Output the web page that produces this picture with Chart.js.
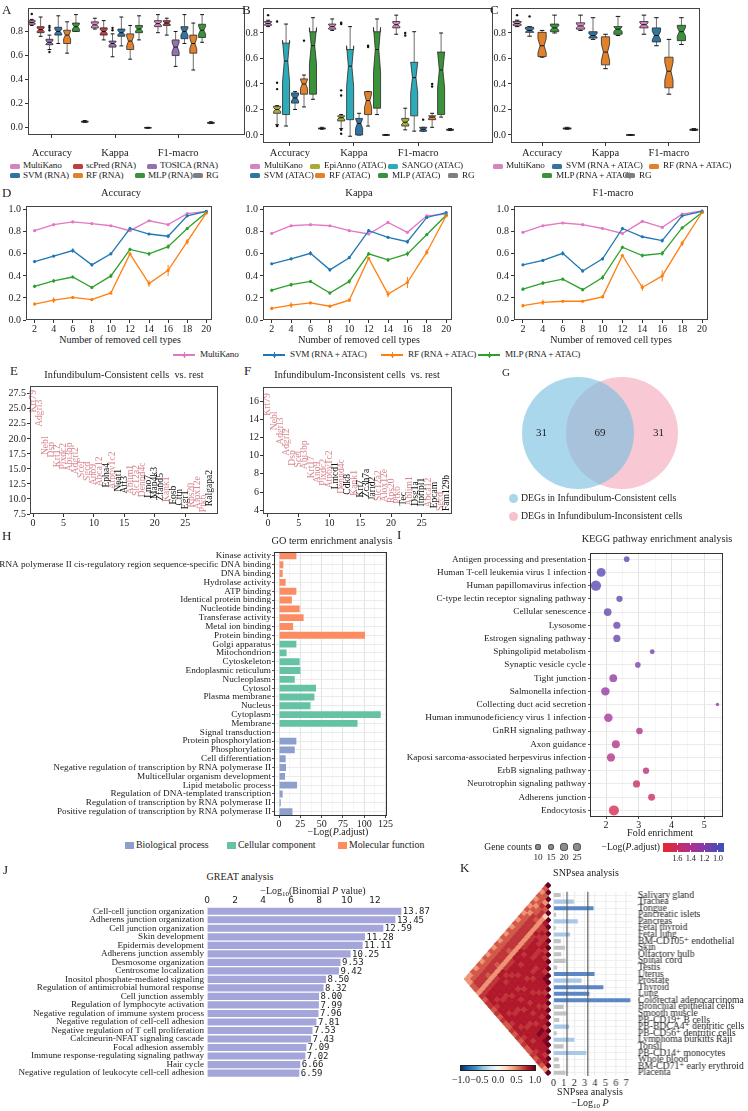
<!DOCTYPE html>
<html>
<head>
<meta charset="utf-8">
<title>MultiKano benchmark figure</title>
<script src="https://cdn.jsdelivr.net/npm/chart.js@4.4.1/dist/chart.umd.min.js"></script>
<style>
  html, body { margin: 0; padding: 0; background: #fff; }
  body { position: relative; width: 748px; height: 1111px; overflow: hidden;
         font-family: "Liberation Serif", "DejaVu Serif", serif; color: #222; }
  .box { position: absolute; }
  .box canvas { display: block; }
  .t { position: absolute; white-space: nowrap; line-height: 1; }
  .t sub { font-size: 70%; vertical-align: -0.25em; line-height: 0; }
  .mk { position: absolute; }
</style>
</head>
<body>
<script>
// ---------- A / B / C : box plots ----------
const metrics = ['Accuracy', 'Kappa', 'F1-macro'];
const boxYTicks = [0, 0.2, 0.4, 0.6, 0.8];

// one row per metric: [min, q1, median, q3, max]
const aMultiKano = [[0.85, 0.86, 0.875, 0.89, 0.90], [0.82, 0.83, 0.855, 0.88, 0.91], [0.79, 0.84, 0.865, 0.89, 0.94]];
const aScPred    = [[0.76, 0.79, 0.815, 0.84, 0.92], [0.73, 0.77, 0.80, 0.83, 0.89], [0.77, 0.85, 0.87, 0.89, 0.91]];
const aTosica    = [[0.65, 0.69, 0.71, 0.735, 0.77], [0.59, 0.67, 0.70, 0.72, 0.78], [0.51, 0.60, 0.67, 0.73, 0.80]];
const aSvm       = [[0.70, 0.77, 0.80, 0.835, 0.93], [0.68, 0.76, 0.79, 0.82, 0.92], [0.70, 0.74, 0.80, 0.84, 0.94]];
const aRf        = [[0.62, 0.70, 0.77, 0.81, 0.88], [0.57, 0.65, 0.72, 0.78, 0.85], [0.48, 0.62, 0.70, 0.77, 0.87]];
const aMlp       = [[0.80, 0.80, 0.84, 0.87, 0.94], [0.73, 0.79, 0.82, 0.85, 0.93], [0.71, 0.75, 0.81, 0.86, 0.94]];
const rgStats    = [[0.045, 0.048, 0.05, 0.055, 0.06], [-0.004, -0.002, 0, 0.002, 0.004], [0.035, 0.038, 0.04, 0.045, 0.05]];
const noOutliers = [[], [], []];
const aMultiKanoOut = [[0.945], [], []];
const aTosicaOut    = [[0.81, 0.83, 0.845, 0.63], [0.81, 0.83], []];

const bMultiKano = [[0.85, 0.86, 0.875, 0.89, 0.90], [0.82, 0.83, 0.85, 0.87, 0.91], [0.79, 0.84, 0.865, 0.89, 0.94]];
const bEpiAnno   = [[0.08, 0.17, 0.20, 0.225, 0.23], [0.05, 0.11, 0.135, 0.15, 0.16], [0.04, 0.07, 0.10, 0.13, 0.21]];
const bSango     = [[0.07, 0.16, 0.58, 0.72, 0.87], [-0.01, 0.12, 0.54, 0.67, 0.85], [0.03, 0.15, 0.45, 0.57, 0.81]];
const bSvm       = [[0.20, 0.25, 0.29, 0.33, 0.34], [0.0, 0.0, 0.09, 0.13, 0.17], [0.03, 0.03, 0.045, 0.06, 0.06]];
const bRf        = [[0.22, 0.32, 0.40, 0.44, 0.47], [0.07, 0.16, 0.27, 0.34, 0.34], [0.06, 0.12, 0.14, 0.15, 0.17]];
const bMlp       = [[0.28, 0.32, 0.70, 0.81, 0.92], [0.16, 0.21, 0.67, 0.81, 0.91], [0.14, 0.16, 0.51, 0.65, 0.80]];
const bMultiKanoOut = [[0.94], [], []];
const bEpiAnnoOut   = [[0.89, 0.41, 0.36, 0.07], [0.88, 0.87, 0.35, 0.31, 0.04, 0.01], [0.80, 0.78]];
const bSvmOut       = [[], [], [0.12]];
const bRfOut        = [[0.74], [0.70, 0.69], [0.40, 0.38]];

const cMultiKano = [[0.85, 0.86, 0.875, 0.89, 0.90], [0.82, 0.83, 0.855, 0.88, 0.94], [0.79, 0.84, 0.865, 0.89, 0.94]];
const cSvm       = [[0.775, 0.805, 0.82, 0.845, 0.85], [0.75, 0.76, 0.78, 0.81, 0.92], [0.70, 0.73, 0.78, 0.84, 0.92]];
const cRf        = [[0.61, 0.615, 0.70, 0.805, 0.82], [0.52, 0.55, 0.65, 0.77, 0.79], [0.32, 0.37, 0.50, 0.61, 0.75]];
const cMlp       = [[0.80, 0.81, 0.84, 0.87, 0.94], [0.78, 0.79, 0.83, 0.85, 0.93], [0.71, 0.74, 0.81, 0.86, 0.92]];
const cMultiKanoOut = [[0.94], [], []];
const cSvmOut       = [[0.93], [], []];

// ---------- D : removed cell types ----------
const removedTypes = [2, 4, 6, 8, 10, 12, 14, 16, 18, 20];
const dAccMulti = [0.81, 0.865, 0.89, 0.875, 0.855, 0.81, 0.90, 0.865, 0.965, 0.985];
const dAccSvm   = [0.53, 0.58, 0.63, 0.50, 0.60, 0.83, 0.78, 0.76, 0.945, 0.985];
const dAccRf    = [0.145, 0.18, 0.205, 0.185, 0.245, 0.60, 0.33, 0.45, 0.71, 0.97];
const dAccMlp   = [0.305, 0.355, 0.39, 0.295, 0.40, 0.64, 0.60, 0.665, 0.83, 0.975];
const dKapMulti = [0.785, 0.855, 0.865, 0.855, 0.81, 0.78, 0.885, 0.795, 0.945, 0.96];
const dKapSvm   = [0.51, 0.555, 0.605, 0.455, 0.565, 0.81, 0.75, 0.71, 0.93, 0.975];
const dKapRf    = [0.105, 0.135, 0.155, 0.125, 0.18, 0.56, 0.235, 0.34, 0.615, 0.945];
const dKapMlp   = [0.27, 0.32, 0.35, 0.245, 0.35, 0.60, 0.545, 0.60, 0.775, 0.95];
const dF1Multi  = [0.795, 0.855, 0.88, 0.865, 0.83, 0.785, 0.895, 0.84, 0.96, 0.99];
const dF1Svm    = [0.50, 0.54, 0.605, 0.445, 0.555, 0.83, 0.755, 0.72, 0.945, 0.985];
const dF1Rf     = [0.13, 0.16, 0.17, 0.17, 0.21, 0.585, 0.295, 0.40, 0.695, 0.975];
const dF1Mlp    = [0.28, 0.335, 0.37, 0.275, 0.385, 0.66, 0.585, 0.605, 0.835, 0.975];
// standard errors
const dMultiErr = [0.005, 0.005, 0.004, 0.004, 0.005, 0.01, 0.006, 0.006, 0.004, 0.003];
const dSvmErr   = [0.01, 0.01, 0.02, 0.015, 0.012, 0.015, 0.01, 0.018, 0.006, 0.004];
const dRfErr    = [0.015, 0.025, 0.012, 0.012, 0.015, 0.012, 0.03, 0.05, 0.025, 0.005];
const dMlpErr   = [0.015, 0.018, 0.012, 0.015, 0.02, 0.015, 0.018, 0.022, 0.01, 0.005];

// ---------- E / F : marker genes ----------
const eGenes  = ['Krt79', 'Adgrl3', 'Nebl', 'Dsp', 'Krt17', 'Plxdc2', 'Abi3bp', 'Adgrl2', 'Scel', 'Sgcd', 'Ano9', 'Abca12', 'Epha4', 'Atp6v1c2', 'Neat1', 'Atf3', 'Ablim1', 'Slc12a2', 'Dennd4c', 'Lmo7', 'Map4k3', 'Zfand5', 'Kank1', 'Fosb', 'Cttn', 'Egr1', 'Rps20', 'Alox12e', 'Ptk6', 'Ralgapa2'];
const eScores = [24.4, 22.0, 17.3, 16.9, 15.3, 14.9, 14.6, 14.1, 13.5, 13.0, 12.3, 12.1, 11.9, 11.6, 11.2, 10.9, 10.8, 10.5, 10.3, 10.2, 10.0, 9.7, 9.5, 9.1, 8.9, 8.3, 8.6, 8.3, 7.8, 8.8];
const eShared = [1, 1, 1, 1, 1, 1, 1, 1, 1, 1, 1, 1, 0, 1, 0, 0, 1, 1, 1, 0, 0, 0, 1, 0, 0, 0, 1, 1, 1, 0];
const fGenes  = ['Krt79', 'Nebl', 'Adgrl3', 'Adgrl2', 'Dsp', 'Scel', 'Abi3bp', 'Krt17', 'Ano9', 'Plxdc2', 'Atp6v1c2', 'Lmcd1', 'Dennd4c', 'Cdk8', 'Kank1', 'Krt7', 'Zc3h7a', 'Jarid2', 'Slc12a2', 'Alox12e', 'Rps20', 'Ptk6', 'Tec', 'Ablim1', 'Dsg1a', 'Itpripl1', 'Abca12', 'Epcam', 'Sgcd', 'Fam129b'];
const fScores = [14.4, 12.8, 11.2, 10.0, 8.9, 8.7, 8.5, 7.5, 7.0, 6.7, 6.4, 6.3, 5.8, 5.7, 5.6, 5.4, 5.4, 5.1, 5.0, 4.9, 4.8, 4.7, 4.5, 4.5, 4.5, 4.4, 4.3, 4.2, 3.9, 3.9];
const fShared = [1, 1, 1, 1, 1, 1, 1, 1, 1, 1, 1, 0, 1, 0, 1, 0, 0, 0, 1, 1, 1, 1, 0, 1, 0, 0, 1, 0, 1, 0];
const eYTicks = [7.5, 10, 12.5, 15, 17.5, 20, 22.5, 25, 27.5];
const fYTicks = [4, 6, 8, 10, 12, 14, 16];
const rankTicks = [0, 5, 10, 15, 20, 25];

// ---------- G : Venn ----------
const vennSets = ['DEGs in Infundibulum-Consistent cells', 'DEGs in Infundibulum-Inconsistent cells'];
const vennCounts = [31, 69, 31];

// ---------- H : GO terms ----------
const goTerms = ['Kinase activity', 'RNA polymerase II cis-regulatory region sequence-specific DNA binding', 'DNA binding', 'Hydrolase activity', 'ATP binding', 'Identical protein binding', 'Nucleotide binding', 'Transferase activity', 'Metal ion binding', 'Protein binding',
  'Golgi apparatus', 'Mitochondrion', 'Cytoskeleton', 'Endoplasmic reticulum', 'Nucleoplasm', 'Cytosol', 'Plasma membrane', 'Nucleus', 'Cytoplasm', 'Membrane',
  'Signal transduction', 'Protein phosphorylation', 'Phosphorylation', 'Cell differentiation', 'Negative regulation of transcription by RNA polymerase II', 'Multicellular organism development', 'Lipid metabolic process', 'Regulation of DNA-templated transcription', 'Regulation of transcription by RNA polymerase II', 'Positive regulation of transcription by RNA polymerase II'];
const goValues = [20.3, 5.0, 4.2, 7.7, 20.3, 15.0, 24.2, 28.8, 16.5, 101, 20.3, 8.8, 24.2, 25.0, 18.4, 43.4, 41.5, 36.9, 119.5, 92.2, 0.4, 20.3, 18.4, 7.7, 8.1, 7.0, 21.1, 4.2, 2.0, 15.7];
const goGroupNames = ['Biological process', 'Cellular component', 'Molecular function'];
const goGroupOfTerm = [2, 2, 2, 2, 2, 2, 2, 2, 2, 2, 1, 1, 1, 1, 1, 1, 1, 1, 1, 1, 0, 0, 0, 0, 0, 0, 0, 0, 0, 0];
const goTicks = [0, 12.5, 25, 37.5, 50, 62.5, 75, 87.5, 100, 112.5, 125];

// ---------- I : KEGG ----------
const keggTerms = ['Antigen processing and presentation', 'Human T-cell leukemia virus 1 infection', 'Human papillomavirus infection', 'C-type lectin receptor signaling pathway', 'Cellular senescence', 'Lysosome', 'Estrogen signaling pathway', 'Sphingolipid metabolism', 'Synaptic vesicle cycle', 'Tight junction', 'Salmonella infection', 'Collecting duct acid secretion', 'Human immunodeficiency virus 1 infection', 'GnRH signaling pathway', 'Axon guidance', 'Kaposi sarcoma-associated herpesvirus infection', 'ErbB signaling pathway', 'Neurotrophin signaling pathway', 'Adherens junction', 'Endocytosis'];
const keggFold  = [2.63, 1.85, 1.69, 2.41, 2.05, 2.33, 2.33, 3.41, 2.97, 2.22, 1.98, 5.40, 2.07, 3.02, 2.30, 2.15, 3.22, 2.93, 3.39, 2.24];
const keggCount = [8, 20, 27, 10, 15, 13, 13, 6, 8, 15, 18, 3, 18, 11, 16, 17, 10, 13, 12, 25];
const keggLogP  = [1.00, 1.02, 1.03, 1.05, 1.07, 1.10, 1.10, 1.12, 1.18, 1.25, 1.28, 1.30, 1.35, 1.42, 1.43, 1.45, 1.50, 1.60, 1.62, 1.68];
const keggTicks = [2, 2.5, 3, 3.5, 4, 4.5, 5, 5.5];
const geneCountKeys = [10, 15, 20, 25];
const logPKeys = [1.6, 1.4, 1.2, 1.0];

// ---------- J : GREAT ----------
const greatTerms = ['Cell-cell junction organization', 'Adherens junction organization', 'Cell junction organization', 'Skin development', 'Epidermis development', 'Adherens junction assembly', 'Desmosome organization', 'Centrosome localization', 'Inositol phosphate-mediated signaling', 'Regulation of antimicrobial humoral response', 'Cell junction assembly', 'Regulation of lymphocyte activation', 'Negative regulation of immune system process', 'Negative regulation of cell-cell adhesion', 'Negative regulation of T cell proliferation', 'Calcineurin-NFAT signaling cascade', 'Focal adhesion assembly', 'Immune response-regulating signaling pathway', 'Hair cycle', 'Negative regulation of leukocyte cell-cell adhesion'];
const greatValues = [13.87, 13.45, 12.59, 11.28, 11.11, 10.25, 9.53, 9.42, 8.50, 8.32, 8.00, 7.99, 7.96, 7.81, 7.53, 7.43, 7.09, 7.02, 6.66, 6.59];
const greatTicks = [0, 2, 4, 6, 8, 10, 12];

// ---------- K : SNPsea ----------
const snpTissues = ['Salivary gland', 'Trachea', 'Tongue', 'Pancreatic islets', 'Pancreas', 'Fetal thyroid', 'Fetal lung', 'BM-CD105⁺ endothelial', 'Skin', 'Olfactory bulb', 'Spinal cord', 'Testis', 'Uterus', 'Prostate', 'Thyroid', 'Lung', 'Colorectal adenocarcinoma', 'Bronchial epithelial cells', 'Smooth muscle', 'PB-CD19⁺ B cells', 'PB-BDCA4⁺ dentritic cells', 'PB-CD56⁺ dentritic cells', 'Lymphoma burkitts Raji', 'Tonsil', 'PB-CD14⁺ monocytes', 'Whole blood', 'BM-CD71⁺ early erythroid', 'Placenta'];
const snpValues = [0.7, 1.96, 3.86, 0.25, 2.33, 0.2, 1.6, 0.7, 1.1, 0.75, 1.15, 0.35, 3.95, 2.7, 4.8, 3.45, 7.4, 0.95, 1.2, 0.55, 1.5, 0.3, 2.0, 0.95, 3.15, 0.5, 0.6, 1.15];
const snpThresholds = [1.3, 3.3];
const snpTicks = [0, 1, 2, 3, 4, 5, 6, 7];
// lower triangle of the tissue correlation matrix, row i (1..27) holds columns 0..i-1 as levels
const snpCorrLevels = ['2', '12', '221', '1232', '21230', '122314', '2132133', '12331343', '223314334', '1233134343',
  '22331344343', '123313443444', '2233134434443', '12331434443445', '223314444434444', '1232144344434443',
  '22331344443444344', '123313443444434443', '2233134344434444344', '12321434443444344434', '223314434444344434443',
  '1233134444344434443454', '22321344434443444344545', '123313444344434443444444', '2233134434443444344434443',
  '12331344434444344434443444', '112213233232322323232232321'];
const corrLevelValues = [0.25, 0.45, 0.62, 0.72, 0.8, 0.93];
const corrTicks = [-1, -0.5, 0, 0.5, 1];

// ---------- styling ----------
const sns = { blue: '#3274a1', orange: '#e1812c', green: '#3a923a', red: '#c03d3e', purple: '#9372b2',
  pink: '#d684bd', gray: '#7f7f7f', olive: '#a9aa35', cyan: '#2eabb8' };
const tab = { pink: '#e377c2', blue: '#1f77b4', orange: '#ff7f0e', green: '#2ca02c' };
const goColors = ['#8da0cb', '#66c2a5', '#fc8d62'];
const PINK_TXT = '#d98890';
const NOTCH = 0.29;
const rdbuStops = [[-1, '#053061'], [-0.8, '#2166ac'], [-0.6, '#4393c3'], [-0.4, '#92c5de'], [-0.2, '#d1e5f0'], [0, '#f7f7f7'],
  [0.2, '#fddbc7'], [0.4, '#f4a582'], [0.6, '#d6604d'], [0.8, '#b2182b'], [1, '#67001f']];
const logPStops = [[0.91, '#3c50b9'], [1.36, '#a6329a'], [1.81, '#e8262b']];

Chart.defaults.font.family = '"Liberation Serif", "DejaVu Serif", serif';
Chart.defaults.font.size = 10;
Chart.defaults.color = '#222';
Chart.defaults.animation = false;
Chart.defaults.events = [];
Chart.defaults.plugins.legend.display = false;
Chart.defaults.plugins.tooltip.enabled = false;

// ---------- helpers ----------
const hexToRgb = h => [1, 3, 5].map(i => parseInt(h.slice(i, i + 2), 16));
function ramp(stops, t) {
  if (t <= stops[0][0]) return hexToRgb(stops[0][1]);
  for (let k = 1; k < stops.length; k++) {
    if (t <= stops[k][0]) {
      const a = hexToRgb(stops[k - 1][1]), b = hexToRgb(stops[k][1]);
      const f = (t - stops[k - 1][0]) / (stops[k][0] - stops[k - 1][0]);
      return a.map((v, i) => Math.round(v + (b[i] - v) * f));
    }
  }
  return hexToRgb(stops[stops.length - 1][1]);
}
const rgba = (c, a) => 'rgba(' + c[0] + ',' + c[1] + ',' + c[2] + ',' + a + ')';
const bubbleR = n => Math.sqrt(n);

function mount(frame, pad) {
  const [l, t, r, b] = frame;
  const div = document.createElement('div');
  div.className = 'box';
  Object.assign(div.style, { left: (l - pad.l) + 'px', top: (t - pad.t) + 'px',
    width: (r - l + pad.l + pad.r) + 'px', height: (b - t + pad.t + pad.b) + 'px' });
  const c = document.createElement('canvas');
  div.appendChild(c);
  document.body.appendChild(div);
  return c;
}
function txt(html, x, y, o) {
  o = o || {};
  const d = document.createElement('div');
  d.className = 't';
  d.innerHTML = html;
  const shift = { left: '0%', center: '-50%', right: '-100%' }[o.align || 'left'];
  d.style.left = x + 'px';
  d.style.top = y + 'px';
  d.style.fontSize = (o.size || 10) + 'px';
  d.style.transform = 'translate(' + shift + ',-50%)';
  if (o.color) d.style.color = o.color;
  if (o.family) d.style.fontFamily = o.family;
  if (o.spacing) d.style.letterSpacing = o.spacing + 'px';
  document.body.appendChild(d);
}
function rect(x, y, w, h, css) {
  const d = document.createElement('div');
  d.className = 'mk';
  Object.assign(d.style, { left: x + 'px', top: y + 'px', width: w + 'px', height: h + 'px' }, css);
  document.body.appendChild(d);
}
const fixedTicks = list => s => { s.ticks = list.map(v => ({ value: v })); };

const framePlugin = {
  id: 'frame',
  afterDraw(chart, args, opts) {
    const a = chart.chartArea, ctx = chart.ctx;
    ctx.save();
    ctx.strokeStyle = opts.color || '#333';
    ctx.lineWidth = opts.width || 1;
    ctx.strokeRect(Math.round(a.left) + 0.5, Math.round(a.top) + 0.5, Math.round(a.width) - 1, Math.round(a.height) - 1);
    ctx.restore();
  }
};

function plainAxis(extra) {
  return Object.assign({ grid: { drawOnChartArea: false, tickLength: 3, color: '#333' }, border: { display: false } }, extra);
}

// ---------- box plot chart ----------
function boxChart(frame, pad, spec) {
  const canvas = mount(frame, pad);
  const M = spec.series.length;
  const xOf = (g, m) => g + spec.shift + (m - (M - 1) / 2) * spec.step;
  const outlierPts = [];
  spec.series.forEach((s, m) => s.out.forEach((list, g) => list.forEach(v => outlierPts.push({ x: xOf(g, m), y: v }))));

  const boxes = {
    id: 'boxes',
    beforeDatasetsDraw(chart) {
      const { ctx, scales: { x, y } } = chart;
      const seg = (x1, y1, x2, y2) => { ctx.beginPath(); ctx.moveTo(x1, y1); ctx.lineTo(x2, y2); ctx.stroke(); };
      ctx.save();
      spec.series.forEach((s, m) => s.stats.forEach((st, g) => {
        const [lo, q1, med, q3, hi] = st;
        const cx = x.getPixelForValue(xOf(g, m));
        const hw = (x.getPixelForValue(spec.boxW) - x.getPixelForValue(0)) / 2;
        const iqr = q3 - q1;
        const pq1 = y.getPixelForValue(q1), pq3 = y.getPixelForValue(q3), pm = y.getPixelForValue(med);
        const nLo = y.getPixelForValue(med - NOTCH * iqr), nHi = y.getPixelForValue(med + NOTCH * iqr);
        const plo = y.getPixelForValue(lo), phi = y.getPixelForValue(hi);
        ctx.lineWidth = 1;
        ctx.strokeStyle = '#6d6d6d';
        seg(cx, phi, cx, pq3);
        seg(cx, pq1, cx, plo);
        ctx.strokeStyle = '#111';
        seg(cx - hw * 0.55, phi, cx + hw * 0.55, phi);
        seg(cx - hw * 0.55, plo, cx + hw * 0.55, plo);
        ctx.beginPath();
        ctx.moveTo(cx - hw, pq1); ctx.lineTo(cx - hw, nLo); ctx.lineTo(cx - hw / 2, pm);
        ctx.lineTo(cx - hw, nHi); ctx.lineTo(cx - hw, pq3); ctx.lineTo(cx + hw, pq3);
        ctx.lineTo(cx + hw, nHi); ctx.lineTo(cx + hw / 2, pm); ctx.lineTo(cx + hw, nLo);
        ctx.lineTo(cx + hw, pq1); ctx.closePath();
        ctx.fillStyle = s.color;
        ctx.fill();
        ctx.strokeStyle = '#2a2a2a';
        ctx.lineWidth = 0.8;
        ctx.stroke();
        ctx.strokeStyle = '#111';
        ctx.lineWidth = 1;
        seg(cx - hw / 2, pm, cx + hw / 2, pm);
      }));
      ctx.restore();
    }
  };

  new Chart(canvas, {
    type: 'scatter',
    data: { datasets: [{ data: outlierPts, pointRadius: 1.2, pointBackgroundColor: '#111', pointBorderWidth: 0 }] },
    options: {
      responsive: true, maintainAspectRatio: false,
      layout: { padding: { left: 0, top: pad.t, right: pad.r, bottom: 0 }, autoPadding: false },
      scales: {
        x: plainAxis({ type: 'linear', min: spec.xMin, max: spec.xMax,
          afterFit: s => { s.height = pad.b; }, afterBuildTicks: fixedTicks([0, 1, 2]),
          ticks: { callback: v => metrics[v], font: { size: 10.5 }, padding: spec.xPad, maxRotation: 0, autoSkip: false } }),
        y: plainAxis({ min: spec.yMin, max: spec.yMax,
          afterFit: s => { s.width = pad.l; }, afterBuildTicks: fixedTicks(boxYTicks),
          ticks: { callback: v => v.toFixed(1), padding: 2 } })
      },
      plugins: { frame: { color: '#444' } }
    },
    plugins: [boxes, framePlugin]
  });
}

function boxLegend(items) {
  items.forEach(([name, color, mx, tx, y]) => {
    rect(mx, y - 2.5, 10, 5, { background: color, borderRadius: '1.5px' });
    txt(name, tx, y, { size: 9.2, spacing: -0.2 });
  });
}

boxChart([28, 8, 245, 135], { l: 28, t: 8, r: 3, b: 24 }, {
  series: [
    { color: sns.pink, stats: aMultiKano, out: aMultiKanoOut },
    { color: sns.red, stats: aScPred, out: noOutliers },
    { color: sns.purple, stats: aTosica, out: aTosicaOut },
    { color: sns.blue, stats: aSvm, out: noOutliers },
    { color: sns.orange, stats: aRf, out: noOutliers },
    { color: sns.green, stats: aMlp, out: noOutliers },
    { color: sns.gray, stats: rgStats, out: noOutliers }],
  xMin: -0.38, xMax: 3.06, yMin: -0.06, yMax: 0.995, shift: 0.1, step: 0.14, boxW: 0.11, xPad: 8.5 });

boxChart([263, 8, 493, 143], { l: 26, t: 8, r: 3, b: 16 }, {
  series: [
    { color: sns.pink, stats: bMultiKano, out: bMultiKanoOut },
    { color: sns.olive, stats: bEpiAnno, out: bEpiAnnoOut },
    { color: sns.cyan, stats: bSango, out: noOutliers },
    { color: sns.blue, stats: bSvm, out: bSvmOut },
    { color: sns.orange, stats: bRf, out: bRfOut },
    { color: sns.green, stats: bMlp, out: noOutliers },
    { color: sns.gray, stats: rgStats, out: noOutliers }],
  xMin: -0.42, xMax: 3.17, yMin: -0.063, yMax: 0.996, shift: 0.08, step: 0.14, boxW: 0.11, xPad: 1 });

boxChart([511, 8, 700, 143], { l: 26, t: 8, r: 3, b: 16 }, {
  series: [
    { color: sns.pink, stats: cMultiKano, out: cMultiKanoOut },
    { color: sns.blue, stats: cSvm, out: cSvmOut },
    { color: sns.orange, stats: cRf, out: noOutliers },
    { color: sns.green, stats: cMlp, out: noOutliers },
    { color: sns.gray, stats: rgStats, out: noOutliers }],
  xMin: -0.49, xMax: 2.49, yMin: -0.063, yMax: 0.996, shift: 0, step: 0.197, boxW: 0.13, xPad: 1 });

boxLegend([
  ['MultiKano', sns.pink, 10, 23, 166], ['scPred (RNA)', sns.red, 73, 86, 166], ['TOSICA (RNA)', sns.purple, 147, 160, 166],
  ['SVM (RNA)', sns.blue, 10, 23, 175.5], ['RF (RNA)', sns.orange, 73, 86, 175.5], ['MLP (RNA)', sns.green, 135, 148, 175.5], ['RG', sns.gray, 193, 206, 175.5],
  ['MultiKano', sns.pink, 250, 264, 166], ['EpiAnno (ATAC)', sns.olive, 310, 324, 166], ['SANGO (ATAC)', sns.cyan, 388, 402, 166],
  ['SVM (ATAC)', sns.blue, 250, 264, 175.5], ['RF (ATAC)', sns.orange, 315, 329, 175.5], ['MLP (ATAC)', sns.green, 378, 392, 175.5], ['RG', sns.gray, 448, 462, 175.5],
  ['MultiKano', sns.pink, 493, 506, 166], ['SVM (RNA + ATAC)', sns.blue, 552, 566, 166], ['RF (RNA + ATAC)', sns.orange, 649, 663, 166],
  ['MLP (RNA + ATAC)', sns.green, 542, 556, 175.5], ['RG', sns.gray, 625, 639, 175.5]
]);

// ---------- D line charts ----------
const errPlugin = {
  id: 'errbars',
  afterDatasetsDraw(chart) {
    const { ctx, scales: { y } } = chart;
    chart.data.datasets.forEach((ds, k) => {
      const meta = chart.getDatasetMeta(k);
      ctx.save();
      ctx.strokeStyle = ds.borderColor;
      ctx.lineWidth = 1;
      meta.data.forEach((pt, i) => {
        const v = ds.data[i].y, e = ds.errors[i];
        ctx.beginPath();
        ctx.moveTo(pt.x, y.getPixelForValue(v - e));
        ctx.lineTo(pt.x, y.getPixelForValue(v + e));
        ctx.stroke();
      });
      ctx.restore();
    });
  }
};
function lineChart(frame, series) {
  const pad = { l: 24, t: 2, r: 3, b: 14 };
  const canvas = mount(frame, pad);
  new Chart(canvas, {
    type: 'line',
    data: { datasets: series.map(s => ({
      data: removedTypes.map((x, i) => ({ x, y: s.values[i] })), errors: s.errors,
      borderColor: s.color, backgroundColor: s.color, borderWidth: 1.3, pointRadius: 1.6, pointBorderWidth: 0, tension: 0 })) },
    options: {
      responsive: true, maintainAspectRatio: false,
      layout: { padding: { left: 0, top: pad.t, right: pad.r, bottom: 0 }, autoPadding: false },
      scales: {
        x: plainAxis({ type: 'linear', min: 1.1, max: 20.6, afterFit: s => { s.height = pad.b; },
          afterBuildTicks: fixedTicks(removedTypes), ticks: { padding: 0, maxRotation: 0, autoSkip: false } }),
        y: plainAxis({ min: 0, max: 1.034, afterFit: s => { s.width = pad.l; },
          afterBuildTicks: fixedTicks([0, 0.2, 0.4, 0.6, 0.8, 1.0]), ticks: { callback: v => v.toFixed(1), padding: 2 } })
      },
      plugins: { frame: { color: '#444' } }
    },
    plugins: [errPlugin, framePlugin]
  });
}
lineChart([26, 200, 212, 320], [
  { values: dAccRf, errors: dRfErr, color: tab.orange }, { values: dAccMlp, errors: dMlpErr, color: tab.green },
  { values: dAccSvm, errors: dSvmErr, color: tab.blue }, { values: dAccMulti, errors: dMultiErr, color: tab.pink }]);
lineChart([263, 200, 452, 320], [
  { values: dKapRf, errors: dRfErr, color: tab.orange }, { values: dKapMlp, errors: dMlpErr, color: tab.green },
  { values: dKapSvm, errors: dSvmErr, color: tab.blue }, { values: dKapMulti, errors: dMultiErr, color: tab.pink }]);
lineChart([514, 200, 708, 320], [
  { values: dF1Rf, errors: dRfErr, color: tab.orange }, { values: dF1Mlp, errors: dMlpErr, color: tab.green },
  { values: dF1Svm, errors: dSvmErr, color: tab.blue }, { values: dF1Multi, errors: dMultiErr, color: tab.pink }]);

[['MultiKano', tab.pink, 173, 200], ['SVM (RNA + ATAC)', tab.blue, 263, 290], ['RF (RNA + ATAC)', tab.orange, 381, 408], ['MLP (RNA + ATAC)', tab.green, 478, 505]]
  .forEach(([name, color, mx, tx]) => {
    rect(mx, 354.3, 22, 1.4, { background: color });
    rect(mx + 9.5, 353.5, 3, 3, { background: color, borderRadius: '50%' });
    rect(mx + 10.5, 352, 1, 6, { background: color });
    txt(name, tx, 355, { size: 9.2, spacing: -0.2 });
  });

// ---------- E / F gene rank plots ----------
function geneChart(frame, pad, genes, scores, shared, yTicks, digits, xr, yr) {
  const canvas = mount(frame, pad);
  const names = {
    id: 'genes',
    afterDatasetsDraw(chart) {
      const { ctx, scales: { x, y } } = chart;
      ctx.save();
      ctx.font = '9.6px "Liberation Serif", serif';
      ctx.textBaseline = 'middle';
      ctx.textAlign = 'left';
      genes.forEach((g, i) => {
        ctx.save();
        ctx.translate(x.getPixelForValue(i), y.getPixelForValue(scores[i]));
        ctx.rotate(-Math.PI / 2);
        ctx.fillStyle = shared[i] ? PINK_TXT : '#111';
        ctx.fillText(g, 0, 0);
        ctx.restore();
      });
      ctx.restore();
    }
  };
  new Chart(canvas, {
    type: 'scatter',
    data: { datasets: [{ data: scores.map((s, i) => ({ x: i, y: s })), pointRadius: 0 }] },
    options: {
      responsive: true, maintainAspectRatio: false,
      layout: { padding: { left: 0, top: pad.t, right: pad.r, bottom: 0 }, autoPadding: false },
      scales: {
        x: plainAxis({ type: 'linear', min: xr[0], max: xr[1], afterFit: s => { s.height = pad.b; },
          afterBuildTicks: fixedTicks(rankTicks), ticks: { padding: 0, maxRotation: 0, autoSkip: false } }),
        y: plainAxis({ min: yr[0], max: yr[1], afterFit: s => { s.width = pad.l; },
          afterBuildTicks: fixedTicks(yTicks), ticks: { callback: v => v.toFixed(digits), padding: 1 } })
      },
      plugins: { frame: { color: '#444' } }
    },
    plugins: [names, framePlugin]
  });
}
geneChart([30, 381, 218, 514], { l: 30, t: 2, r: 4, b: 14 }, eGenes, eScores, eShared, eYTicks, 1, [-0.5, 30.4], [7.5, 28.8]);
geneChart([263, 382, 452, 514], { l: 22, t: 2, r: 4, b: 14 }, fGenes, fScores, fShared, fYTicks, 0, [-0.8, 29.9], [3.58, 17.55]);

// ---------- G Venn ----------
(function () {
  const canvas = mount([500, 372, 748, 520], { l: 0, t: 0, r: 0, b: 0 });
  const countText = {
    id: 'vennCounts',
    afterDatasetsDraw(chart) {
      const { ctx, scales: { x, y } } = chart;
      ctx.save();
      ctx.font = '11px "Liberation Serif", serif';
      ctx.fillStyle = '#222';
      ctx.textAlign = 'center';
      ctx.textBaseline = 'middle';
      [-1.33, 0, 1.33].forEach((px, i) => ctx.fillText(String(vennCounts[i]), x.getPixelForValue(px), y.getPixelForValue(0)));
      ctx.restore();
    }
  };
  new Chart(canvas, {
    type: 'scatter',
    data: { datasets: [
      { label: vennSets[0], data: [{ x: -0.5, y: 0 }], pointRadius: 56, pointBackgroundColor: 'rgba(120,190,225,0.62)', pointBorderWidth: 0 },
      { label: vennSets[1], data: [{ x: 0.5, y: 0 }], pointRadius: 56, pointBackgroundColor: 'rgba(242,150,172,0.52)', pointBorderWidth: 0 }] },
    options: {
      responsive: true, maintainAspectRatio: false,
      layout: { padding: 0, autoPadding: false },
      scales: { x: { display: false, min: -2.273, max: 3.364 }, y: { display: false, min: -1.977, max: 1.386 } }
    },
    plugins: [countText]
  });
  rect(508.5, 493.5, 9, 9, { background: '#aad6ea', borderRadius: '50%' });
  txt(vennSets[0], 521, 498, { size: 9.8 });
  rect(508.5, 511.5, 9, 9, { background: '#f6c1cb', borderRadius: '50%' });
  txt(vennSets[1], 521, 516, { size: 9.8 });
})();

// ---------- H GO bar chart ----------
const isMajor = (v, step) => Math.abs(v / step - Math.round(v / step)) < 1e-6;
(function () {
  const pad = { l: 274, t: 2, r: 4, b: 14 };
  const canvas = mount([274, 547, 389, 816], pad);
  new Chart(canvas, {
    type: 'bar',
    data: { labels: goTerms, datasets: [{ data: goValues, backgroundColor: goGroupOfTerm.map(g => goColors[g]),
      barPercentage: 0.78, categoryPercentage: 1 }] },
    options: {
      indexAxis: 'y', responsive: true, maintainAspectRatio: false,
      layout: { padding: { left: 0, top: pad.t, right: pad.r, bottom: 0 }, autoPadding: false },
      scales: {
        x: { min: -6, max: 127, afterFit: s => { s.height = pad.b; }, afterBuildTicks: fixedTicks(goTicks),
          ticks: { callback: v => (isMajor(v, 25) ? String(v) : ''), padding: 0, maxRotation: 0, autoSkip: false },
          grid: { color: c => (c.tick && isMajor(c.tick.value, 25) ? '#e0e0e0' : '#ededed'),
            lineWidth: c => (c.tick && isMajor(c.tick.value, 25) ? 0.9 : 0.5),
            tickColor: c => (c.tick && isMajor(c.tick.value, 25) ? '#333' : 'rgba(0,0,0,0)'), tickLength: 2 },
          border: { display: false } },
        y: { afterFit: s => { s.width = pad.l; }, ticks: { font: { size: 9.2 }, padding: 1, autoSkip: false },
          grid: { offset: false, color: '#e6e6e6', lineWidth: 0.8, tickColor: '#333', tickLength: 2 }, border: { display: false } }
      },
      plugins: { frame: { color: '#333' } }
    },
    plugins: [framePlugin]
  });
  [[125, 136], [227, 238], [338, 349]].forEach(([sx, tx], g) => {
    rect(sx, 841.5, 9, 7, { background: goColors[g] });
    txt(goGroupNames[g], tx, 845, { size: 9.8 });
  });
})();

// ---------- I KEGG bubble chart ----------
(function () {
  const pad = { l: 210, t: 2, r: 4, b: 14 };
  const canvas = mount([590, 547, 723, 817], pad);
  new Chart(canvas, {
    type: 'scatter',
    data: { datasets: [{ data: keggTerms.map((t, i) => ({ x: keggFold[i], y: t })),
      pointRadius: c => bubbleR(keggCount[c.dataIndex]),
      pointBackgroundColor: c => rgba(ramp(logPStops, keggLogP[c.dataIndex]), 0.78), pointBorderWidth: 0 }] },
    options: {
      responsive: true, maintainAspectRatio: false,
      layout: { padding: { left: 0, top: pad.t, right: pad.r, bottom: 0 }, autoPadding: false },
      scales: {
        x: { type: 'linear', min: 1.51, max: 5.57, afterFit: s => { s.height = pad.b; }, afterBuildTicks: fixedTicks(keggTicks),
          ticks: { callback: v => (isMajor(v, 1) ? String(v) : ''), padding: 0, maxRotation: 0, autoSkip: false },
          grid: { color: c => (c.tick && isMajor(c.tick.value, 1) ? '#e0e0e0' : '#ededed'),
            lineWidth: c => (c.tick && isMajor(c.tick.value, 1) ? 0.9 : 0.5),
            tickColor: c => (c.tick && isMajor(c.tick.value, 1) ? '#333' : 'rgba(0,0,0,0)'), tickLength: 2 },
          border: { display: false } },
        y: { type: 'category', labels: keggTerms, offset: true, afterFit: s => { s.width = pad.l; },
          ticks: { font: { size: 9.2 }, padding: 2, autoSkip: false },
          grid: { offset: false, color: '#e6e6e6', lineWidth: 0.8, tickColor: '#333', tickLength: 2 }, border: { display: false } }
      },
      plugins: { frame: { color: '#333' } }
    },
    plugins: [framePlugin]
  });
  // gene count legend
  txt('Gene counts', 532, 847, { size: 9.6, align: 'right' });
  geneCountKeys.forEach((n, k) => {
    const cx = 538 + k * 13, r = bubbleR(n) * 0.85;
    rect(cx - r, 847 - r, 2 * r, 2 * r, { background: '#8c8c8c', borderRadius: '50%', boxShadow: 'inset 0 0 0 0.8px #4a4a4a' });
    txt(String(n), cx, 857.5, { size: 9.2, align: 'center' });
  });
  // colour bar (high values on the left, as in the original)
  const barL = 663, barW = 61, vHi = 1.81, vLo = 0.91;
  const grad = logPStops.map(s => s[1]).join(',');
  rect(barL, 843, barW, 9, { background: 'linear-gradient(to left,' + grad + ')' });
  txt('−Log(<i>P</i>.adjust)', 660, 847, { size: 9.6, align: 'right' });
  logPKeys.forEach(v => {
    const px = barL + (vHi - v) / (vHi - vLo) * barW;
    rect(px - 0.5, 843, 1, 2, { background: '#fff' });
    rect(px - 0.5, 850, 1, 2, { background: '#fff' });
    txt(v.toFixed(1), px, 859, { size: 8.4, align: 'center', spacing: -0.2 });
  });
})();

// ---------- J GREAT ----------
(function () {
  const pad = { l: 206, t: 14, r: 40, b: 2 };
  const canvas = mount([206.7, 906.6, 407, 1083.4], pad);
  const values = {
    id: 'greatValues',
    afterDraw(chart) {
      const ctx = chart.ctx, meta = chart.getDatasetMeta(0);
      ctx.save();
      ctx.font = '9px "DejaVu Sans Mono", monospace';
      ctx.fillStyle = '#222';
      ctx.textBaseline = 'middle';
      meta.data.forEach((bar, i) => ctx.fillText(greatValues[i].toFixed(2), bar.x + 1.5, bar.y + 0.5));
      ctx.restore();
    }
  };
  new Chart(canvas, {
    type: 'bar',
    data: { labels: greatTerms, datasets: [{ data: greatValues, backgroundColor: '#a4a5d9', barPercentage: 0.84, categoryPercentage: 1 }] },
    options: {
      indexAxis: 'y', responsive: true, maintainAspectRatio: false,
      layout: { padding: { left: 0, top: 0, right: pad.r, bottom: pad.b }, autoPadding: false },
      scales: {
        x: { position: 'top', min: 0, max: 14.3, z: 1, afterFit: s => { s.height = pad.t; }, afterBuildTicks: fixedTicks(greatTicks),
          ticks: { padding: 1, maxRotation: 0, autoSkip: false, font: { family: '"DejaVu Sans", sans-serif', size: 9 } },
          grid: { color: '#fff', lineWidth: 1.2, drawTicks: false }, border: { display: false } },
        y: { afterFit: s => { s.width = pad.l; }, ticks: { font: { size: 9.1 }, padding: 3, autoSkip: false },
          grid: { display: false, drawTicks: false }, border: { display: false } }
      }
    },
    plugins: [values]
  });
})();

// ---------- K SNPsea ----------
(function () {
  // bar part
  const pad = { l: 0, t: 2, r: 117, b: 14 };
  const canvas = mount([550, 881.5, 631.5, 1075.5], pad);
  const thresholds = {
    id: 'thresholds',
    afterDatasetsDraw(chart) {
      const { ctx, chartArea: a, scales: { x } } = chart;
      ctx.save();
      ctx.strokeStyle = '#5a5a5a';
      ctx.lineWidth = 1.2;
      snpThresholds.forEach(v => {
        const px = x.getPixelForValue(v);
        ctx.beginPath(); ctx.moveTo(px, a.top); ctx.lineTo(px, a.bottom); ctx.stroke();
      });
      ctx.restore();
    }
  };
  const barColor = v => (v > snpThresholds[1] ? '#5b87c6' : v > snpThresholds[0] ? '#a9c7e7' : '#c2c2c2');
  new Chart(canvas, {
    type: 'bar',
    data: { labels: snpTissues, datasets: [{ data: snpValues, backgroundColor: snpValues.map(barColor), barPercentage: 0.62, categoryPercentage: 1 }] },
    options: {
      indexAxis: 'y', responsive: true, maintainAspectRatio: false,
      layout: { padding: { left: 0, top: pad.t, right: 0, bottom: 0 }, autoPadding: false },
      scales: {
        x: { min: -0.07, max: 7.55, afterFit: s => { s.height = pad.b; }, afterBuildTicks: fixedTicks(snpTicks),
          ticks: { padding: 1, maxRotation: 0, autoSkip: false, font: { size: 10 } },
          grid: { color: '#e4e4e4', lineWidth: 0.8, drawTicks: false }, border: { display: false } },
        y: { position: 'right', afterFit: s => { s.width = pad.r; }, ticks: { font: { size: 9.6 }, padding: 6, autoSkip: false },
          grid: { offset: false, color: '#ececec', lineWidth: 0.8, drawTicks: false }, border: { display: false } }
      }
    },
    plugins: [thresholds]
  });

  // correlation triangle
  const heatPts = [];
  for (let i = 0; i < snpTissues.length; i++) {
    heatPts.push({ x: 0, y: i, v: 1 });
    if (i > 0) {
      const row = snpCorrLevels[i - 1];
      for (let j = 0; j < i; j++) heatPts.push({ x: i - j, y: (i + j) / 2, v: corrLevelValues[+row[j]] });
    }
  }
  const hc = mount([464, 881.5, 551, 1075.5], { l: 5, t: 5, r: 5, b: 5 });
  new Chart(hc, {
    type: 'scatter',
    data: { datasets: [{ data: heatPts, pointStyle: 'rectRot', pointRadius: 3.6, pointBorderWidth: 0,
      pointBackgroundColor: c => rgba(ramp(rdbuStops, c.raw.v), 1) }] },
    options: {
      responsive: true, maintainAspectRatio: false,
      layout: { padding: 5, autoPadding: false },
      scales: { x: { display: false, min: -1, max: 28, reverse: true }, y: { display: false, min: -0.5, max: 27.5, reverse: true } }
    }
  });
  const cbL = 461, cbW = 74;
  rect(cbL, 1065.5, cbW, 4, { background: 'linear-gradient(to right,' + rdbuStops.map(s => s[1]).join(',') + ')', outline: '0.6px solid #222' });
  corrTicks.forEach(v => txt(v.toFixed(1).replace('-', '−'), cbL + (v + 1) / 2 * cbW, 1080, { size: 10, align: 'center' }));
})();

// ---------- panel letters, titles, axis titles ----------
[['A', 2, 9], ['B', 242, 9], ['C', 490, 9], ['D', 2, 192], ['E', 10, 370], ['F', 244, 370], ['H', 2, 535], ['I', 397, 534], ['J', 3, 869], ['K', 460, 867]]
  .forEach(([l, x, y]) => txt(l, x, y, { size: 13 }));
txt('G', 502, 372, { size: 11 });

txt('Accuracy', 121, 193, { size: 10.5, align: 'center' });
txt('Kappa', 359, 193, { size: 10.5, align: 'center' });
txt('F1-macro', 613, 193, { size: 10.5, align: 'center' });
[120, 359, 611].forEach(cx => txt('Number of removed cell types', cx, 340, { size: 10, align: 'center' }));

txt('Infundibulum-Consistent cells&nbsp; vs. rest', 124, 375, { size: 10.3, align: 'center' });
txt('Infundibulum-Inconsistent cells&nbsp; vs. rest', 357, 375, { size: 10.3, align: 'center' });

txt('GO term enrichment analysis', 332, 541, { size: 10.3, align: 'center' });
txt('−Log(<i>P</i>.adjust)', 338, 832, { size: 10, align: 'center' });
txt('KEGG pathway enrichment analysis', 657, 539, { size: 10.3, align: 'center' });
txt('Fold enrichment', 660, 833, { size: 10, align: 'center' });

txt('GREAT analysis', 240, 877, { size: 10, align: 'center' });
txt('−Log<sub>10</sub>(Binomial <i>P</i> value)', 313, 891, { size: 10, align: 'center' });

txt('SNPsea analysis', 586, 873, { size: 10, align: 'center' });
txt('SNPsea analysis', 590, 1092, { size: 10, align: 'center' });
txt('−Log<sub>10</sub> <i>P</i>', 590, 1103, { size: 10, align: 'center' });
</script>
</body>
</html>
